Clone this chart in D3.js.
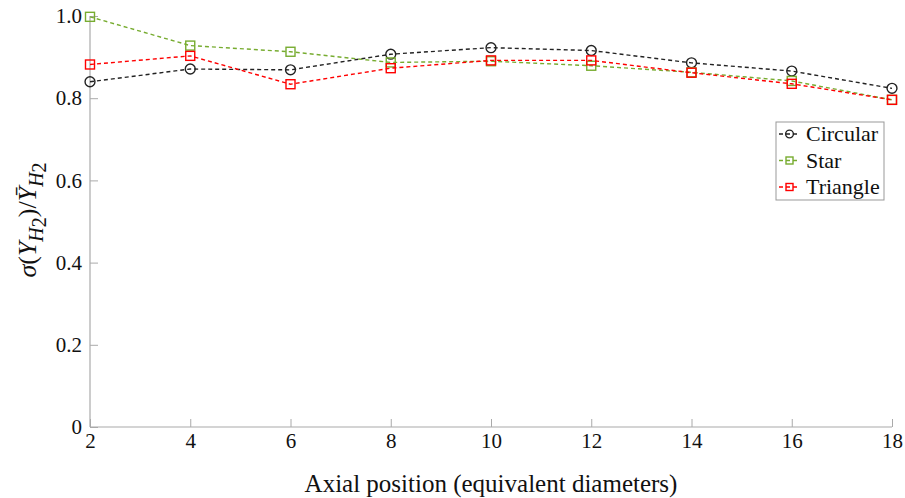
<!DOCTYPE html>
<html><head><meta charset="utf-8">
<script src="https://cdn.jsdelivr.net/npm/d3@7"></script>
<style>body{margin:0;background:#fff;} svg text{font-family:"Liberation Serif","Times New Roman",serif !important;}</style>
</head><body><svg id="c" width="905" height="498"></svg>
<script>
const positions = [2,4,6,8,10,12,14,16,18];
const circular = [0.840,0.871,0.869,0.907,0.923,0.916,0.886,0.866,0.824];
const star     = [0.998,0.928,0.913,0.887,0.890,0.879,0.863,0.842,0.796];
const triangle = [0.882,0.903,0.834,0.873,0.892,0.892,0.862,0.835,0.796];
const xTicks = [2,4,6,8,10,12,14,16,18];
const yTicks = [0,0.2,0.4,0.6,0.8,1.0];
const seriesNames = ["Circular","Star","Triangle"];
const seriesColors = ["#222222","#77AC30","#FF0000"];
const seriesMarkers = ["circle","square","square"];
const seriesData = [circular, star, triangle];

const svg = d3.select("#c");
const x = d3.scaleLinear().domain([2,18]).range([90,892]);
const y = d3.scaleLinear().domain([0,1]).range([427,16]);
const axisColor = "#aaaaaa";

svg.append("line").attr("x1",x(2)).attr("x2",x(18)).attr("y1",y(0)).attr("y2",y(0)).attr("stroke",axisColor).attr("stroke-width",1.2);
svg.append("line").attr("x1",x(2)).attr("x2",x(2)).attr("y1",y(0)).attr("y2",y(1)).attr("stroke",axisColor).attr("stroke-width",1.2);

const xa = svg.append("g").attr("transform",`translate(0,${y(0)})`)
  .call(d3.axisBottom(x).tickValues(xTicks).tickSize(-8).tickPadding(6).tickFormat(d3.format("d")));
xa.select(".domain").remove();
xa.selectAll("line").attr("stroke",axisColor);
xa.selectAll("text").attr("font-size",21).attr("fill","#111");

const ya = svg.append("g").attr("transform",`translate(${x(2)},0)`)
  .call(d3.axisLeft(y).tickValues(yTicks).tickSize(-8).tickPadding(8).tickFormat(d=> d===0?"0":d3.format(".1f")(d)));
ya.select(".domain").remove();
ya.selectAll("line").attr("stroke",axisColor);
ya.selectAll("text").attr("font-size",21).attr("fill","#111");
svg.selectAll(".tick text").attr("font-family","Liberation Serif");

const line = d3.line().x((d,i)=>x(positions[i])).y(d=>y(d));
function marker(g, type, cx, cy, color, s){
  if(type==="circle") g.append("circle").attr("cx",cx).attr("cy",cy).attr("r",s*0.55).attr("fill","none").attr("stroke",color).attr("stroke-width",1.4);
  else g.append("rect").attr("x",cx-s/2).attr("y",cy-s/2).attr("width",s).attr("height",s).attr("fill","none").attr("stroke",color).attr("stroke-width",1.4);
}
seriesData.forEach((vals,k)=>{
  const g = svg.append("g");
  g.append("path").datum(vals).attr("d",line).attr("fill","none").attr("stroke",seriesColors[k]).attr("stroke-width",1.4).attr("stroke-dasharray","4,3");
  vals.forEach((v,i)=> marker(g, seriesMarkers[k], x(positions[i]), y(v), seriesColors[k], 9));
});

const lg = svg.append("g");
lg.append("rect").attr("x",776).attr("y",122).attr("width",108).attr("height",78).attr("fill","#fff").attr("stroke","#999").attr("stroke-width",1);
seriesNames.forEach((n,k)=>{
  const yy = 134 + k*26.5;
  lg.append("line").attr("x1",779).attr("x2",800).attr("y1",yy).attr("y2",yy).attr("stroke",seriesColors[k]).attr("stroke-width",1.3).attr("stroke-dasharray","4,3");
  marker(lg, seriesMarkers[k], 789.5, yy, seriesColors[k], 7);
  lg.append("text").attr("x",806).attr("y",yy+7).attr("font-size",22).attr("fill","#111").text(n);
});

svg.append("text").attr("x",491).attr("y",492).attr("text-anchor","middle").attr("font-size",25).attr("fill","#111").text("Axial position (equivalent diameters)");
const yl = svg.append("text").attr("transform","translate(36,220) rotate(-90)").attr("text-anchor","middle").attr("font-size",26).attr("fill","#111");
yl.append("tspan").attr("font-style","italic").text("σ");
yl.append("tspan").text("(");
yl.append("tspan").attr("font-style","italic").text("Y");
yl.append("tspan").attr("font-style","italic").attr("font-size",20).attr("dy",7).text("H");
yl.append("tspan").attr("font-size",20).attr("dy",3).text("2");
yl.append("tspan").attr("dy",-10).text(")/");
yl.append("tspan").attr("font-style","italic").text("Ȳ");
yl.append("tspan").attr("font-style","italic").attr("font-size",20).attr("dy",7).text("H");
yl.append("tspan").attr("font-size",20).attr("dy",3).text("2");
</script></body></html>
